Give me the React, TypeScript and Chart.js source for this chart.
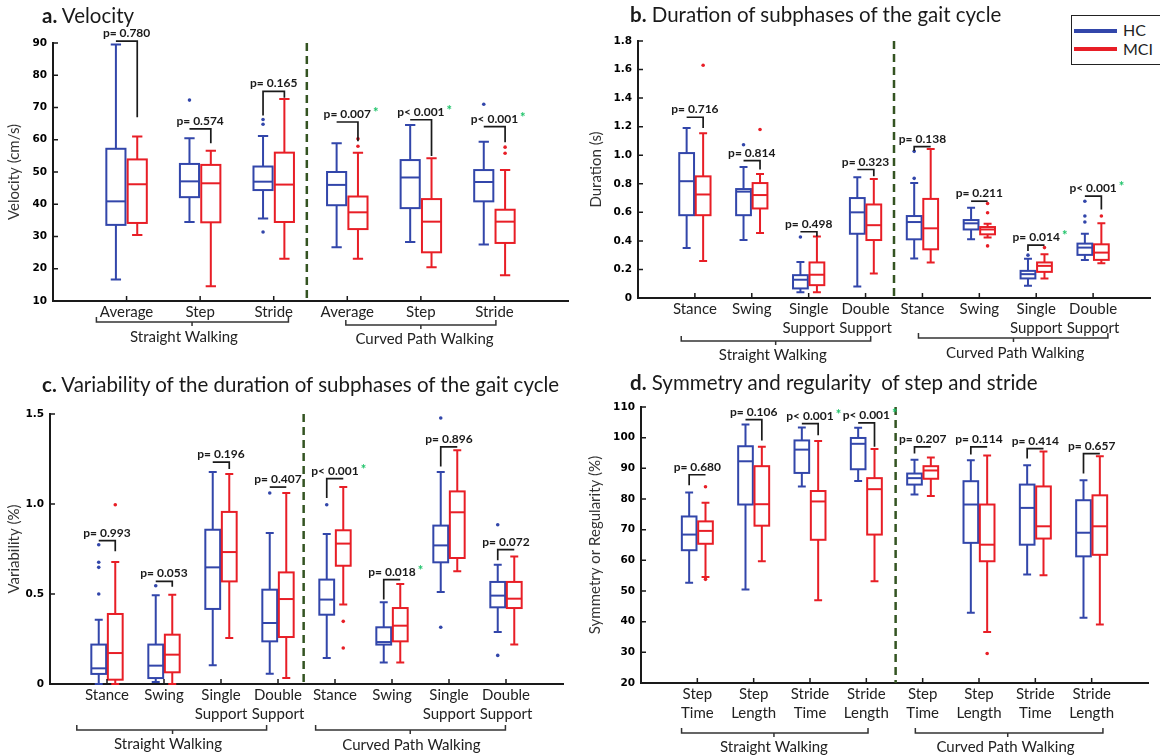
import React, { useEffect, useRef } from 'react';
import { Chart, registerables } from 'chart.js';
Chart.register(...registerables);

const BLUE = 'rgb(50,70,170)';
const RED = 'rgb(232,30,38)';
const DIVIDER = 'rgb(52,84,34)';
const STAR = 'rgb(30,195,105)';
const INK = '#1a1a1a';

// ---------- a. Velocity ----------
const velCategories = [['Average'], ['Step'], ['Stride'], ['Average'], ['Step'], ['Stride']];
const velHC = [
  [16.7, 33.6, 40.9, 57.2, 89.5],
  [34.5, 42.2, 47.1, 52.5, 60.5],
  [35.6, 44.4, 47.0, 51.7, 61.2],
  [26.7, 39.7, 46.0, 50.0, 58.9],
  [28.3, 38.8, 48.3, 53.7, 64.6],
  [27.5, 40.9, 46.9, 50.6, 59.4],
];
const velMCI = [
  [30.5, 34.2, 46.2, 53.9, 61.0],
  [14.6, 34.4, 46.5, 52.2, 56.6],
  [23.1, 34.5, 46.1, 56.0, 72.6],
  [23.1, 32.3, 37.5, 42.4, 56.0],
  [20.5, 25.1, 34.6, 41.6, 54.3],
  [18.0, 28.0, 34.6, 38.3, 50.6],
];
const velHCOut = [[], [72.3], [66.3, 64.8, 31.4], [], [], [71.0]];
const velMCIOut = [[], [], [], [60.3, 58.0], [], [57.7, 55.8]];
const velP = ['p= 0.780', 'p= 0.574', 'p= 0.165', 'p= 0.007', 'p< 0.001', 'p< 0.001'];
const velSig = [false, false, false, true, true, true];
const velBracket = [[90.6, null, 67], [63.4, null, 58.9], [75, 67.5, 73], [65.5, null, 59.5], [66.2, null, 55], [64.1, null, 59.2]];

// ---------- b. Duration ----------
const durCategories = [['Stance'], ['Swing'], ['Single', 'Support'], ['Double', 'Support'], ['Stance'], ['Swing'], ['Single', 'Support'], ['Double', 'Support']];
const durHC = [
  [0.35, 0.58, 0.818, 1.015, 1.19],
  [0.406, 0.58, 0.745, 0.763, 0.917],
  [0.04, 0.067, 0.128, 0.16, 0.253],
  [0.08, 0.45, 0.6, 0.7, 0.845],
  [0.276, 0.411, 0.532, 0.574, 0.806],
  [0.411, 0.48, 0.523, 0.546, 0.632],
  [0.086, 0.137, 0.167, 0.19, 0.275],
  [0.267, 0.302, 0.353, 0.381, 0.45],
];
const durMCI = [
  [0.26, 0.58, 0.725, 0.852, 1.154],
  [0.455, 0.627, 0.721, 0.805, 0.868],
  [0.04, 0.09, 0.163, 0.249, 0.43],
  [0.172, 0.406, 0.51, 0.655, 0.834],
  [0.248, 0.341, 0.488, 0.694, 1.043],
  [0.423, 0.446, 0.48, 0.497, 0.52],
  [0.137, 0.183, 0.225, 0.249, 0.307],
  [0.244, 0.267, 0.318, 0.376, 0.523],
];
const durHCOut = [[], [1.073], [0.427], [], [1.027, 0.838], [], [0.3], [0.678, 0.574, 0.532]];
const durMCIOut = [[1.63], [1.18], [], [], [], [0.662, 0.597, 0.365], [0.353], [0.574]];
const durP = ['p= 0.716', 'p= 0.814', 'p= 0.498', 'p= 0.323', 'p= 0.138', 'p= 0.211', 'p= 0.014', 'p< 0.001'];
const durSig = [false, false, false, false, false, false, true, true];
const durBracket = [[1.266, null, 1.19], [0.962, null, 0.9], [0.464, null, 0.43], [0.9, null, 0.853], [1.06, 1.03, null], [0.678, null, null], [0.37, 0.33, null], [0.713, null, 0.62]];

// ---------- c. Variability ----------
const varCategories = [['Stance'], ['Swing'], ['Single', 'Support'], ['Double', 'Support'], ['Stance'], ['Swing'], ['Single', 'Support'], ['Double', 'Support']];
const varHC = [
  [0.0, 0.056, 0.087, 0.219, 0.357],
  [0.011, 0.033, 0.102, 0.219, 0.493],
  [0.104, 0.417, 0.648, 0.857, 1.178],
  [0.057, 0.237, 0.339, 0.524, 0.839],
  [0.144, 0.385, 0.469, 0.58, 0.833],
  [0.12, 0.219, 0.233, 0.315, 0.454],
  [0.511, 0.676, 0.77, 0.88, 1.178],
  [0.289, 0.426, 0.491, 0.567, 0.663],
];
const varMCI = [
  [0.0, 0.024, 0.172, 0.389, 0.678],
  [0.0, 0.065, 0.163, 0.274, 0.496],
  [0.256, 0.57, 0.733, 0.956, 1.167],
  [0.033, 0.261, 0.472, 0.62, 1.061],
  [0.441, 0.657, 0.78, 0.854, 1.094],
  [0.12, 0.237, 0.324, 0.422, 0.556],
  [0.626, 0.7, 0.954, 1.07, 1.298],
  [0.219, 0.422, 0.474, 0.567, 0.709],
];
const varHCOut = [[0.774, 0.676, 0.648, 0.5], [0.546], [], [1.061], [0.996], [], [1.478, 0.315], [0.885, 0.159]];
const varMCIOut = [[0.996], [], [], [], [0.348, 0.2], [], [], []];
const varP = ['p= 0.993', 'p= 0.053', 'p= 0.196', 'p= 0.407', 'p< 0.001', 'p= 0.018', 'p= 0.896', 'p= 0.072'];
const varSig = [false, false, false, false, true, true, false, false];
const varBracket = [[0.796, null, 0.737], [0.57, null, 0.54], [1.233, null, 1.195], [1.094, null, null], [1.141, 1.033, null], [0.58, 0.469, null], [1.317, 1.209, null], [0.746, 0.687, null]];

// ---------- d. Symmetry ----------
const symCategories = [['Step', 'Time'], ['Step', 'Length'], ['Stride', 'Time'], ['Stride', 'Length'], ['Step', 'Time'], ['Step', 'Length'], ['Stride', 'Time'], ['Stride', 'Length']];
const symHC = [
  [52.7, 63.3, 68.4, 74.3, 82.1],
  [50.5, 78.2, 92.3, 97.2, 104.3],
  [84.1, 88.5, 96.1, 99.1, 103.3],
  [85.9, 89.7, 98.0, 99.9, 103.2],
  [81.5, 84.7, 86.8, 88.3, 92.8],
  [42.9, 65.7, 78.2, 85.8, 92.6],
  [55.4, 65.1, 77.1, 84.7, 91.0],
  [41.3, 61.3, 69.0, 79.6, 86.1],
];
const symMCI = [
  [54.6, 65.4, 69.6, 72.7, 78.8],
  [59.7, 71.3, 78.3, 90.7, 97.0],
  [47.0, 66.7, 79.2, 82.6, 98.9],
  [53.2, 68.4, 83.2, 86.8, 96.3],
  [81.0, 86.6, 89.3, 90.7, 93.5],
  [36.6, 59.7, 65.1, 78.2, 94.2],
  [55.1, 67.1, 71.1, 84.1, 95.5],
  [39.1, 61.8, 71.1, 81.2, 93.9],
];
const symHCOut = [[], [], [], [], [], [], [], []];
const symMCIOut = [[84.0, 53.8], [], [], [], [], [29.6], [], []];
const symP = ['p= 0.680', 'p= 0.106', 'p< 0.001', 'p< 0.001', 'p= 0.207', 'p= 0.114', 'p= 0.414', 'p= 0.657'];
const symSig = [false, false, true, true, false, false, false, false];
const symBracket = [[87.9, 84.5, null], [105.9, null, 99.1], [104.6, null, 100.8], [104.8, null, 97], [97, 94.8, null], [97, 94.5, null], [96.4, 93.2, null], [94.8, 88.3, null]];

const groupNames = ['Straight Walking', 'Curved Path Walking'];

type Group = { from: number; to: number; mid: number; text: number; dy: number; ty: number };
type Panel = {
  key: string;
  canvas: { left: number; top: number; w: number; h: number };
  area: { left: number; top: number; right: number; bottom: number };
  cats: string[][];
  hc: number[][];
  mci: number[][];
  hcOut: number[][];
  mciOut: number[][];
  pLabels: string[];
  pSig: boolean[];
  brackets: (number | null)[][];
  yMin: number;
  yMax: number;
  yStep: number;
  yTitle: string;
  yTitlePad: number;
  divider: number;
  groups: Group[];
};

const OFF = 0.145;
const BW = 0.26;
const CAPW = 0.14;
const XH = 62;

const panels: Panel[] = [
  {
    key: 'a', canvas: { left: 0, top: 0, w: 580, h: 370 }, area: { left: 53, top: 43, right: 568, bottom: 301 },
    cats: velCategories, hc: velHC, mci: velMCI, hcOut: velHCOut, mciOut: velMCIOut,
    pLabels: velP, pSig: velSig, brackets: velBracket,
    yMin: 10, yMax: 90, yStep: 10, yTitle: 'Velocity (cm/s)', yTitlePad: 5, divider: 3.45,
    groups: [
      { from: 0.59, to: 3.2, mid: 1.89, text: 1.78, dy: 21, ty: 36 },
      { from: 3.98, to: 6.02, mid: 5.0, text: 5.05, dy: 24, ty: 38 },
    ],
  },
  {
    key: 'b', canvas: { left: 580, top: 0, w: 580, h: 370 }, area: { left: 58, top: 41, right: 570, bottom: 298 },
    cats: durCategories, hc: durHC, mci: durMCI, hcOut: durHCOut, mciOut: durMCIOut,
    pLabels: durP, pSig: durSig, brackets: durBracket,
    yMin: 0, yMax: 1.8, yStep: 0.2, yTitle: 'Duration (s)', yTitlePad: 7, divider: 4.5,
    groups: [
      { from: 0.76, to: 4.09, mid: 2.42, text: 2.37, dy: 43, ty: 57 },
      { from: 4.93, to: 8.26, mid: 6.6, text: 6.63, dy: 40, ty: 55 },
    ],
  },
  {
    key: 'c', canvas: { left: 0, top: 370, w: 580, h: 386 }, area: { left: 50, top: 44, right: 563, bottom: 314 },
    cats: varCategories, hc: varHC, mci: varMCI, hcOut: varHCOut, mciOut: varMCIOut,
    pLabels: varP, pSig: varSig, brackets: varBracket,
    yMin: 0, yMax: 1.5, yStep: 0.5, yTitle: 'Variability (%)', yTitlePad: 5, divider: 4.45,
    groups: [
      { from: 0.47, to: 3.8, mid: 2.15, text: 2.07, dy: 46, ty: 60 },
      { from: 4.66, to: 7.99, mid: 6.32, text: 6.34, dy: 46, ty: 61 },
    ],
  },
  {
    key: 'd', canvas: { left: 580, top: 370, w: 580, h: 386 }, area: { left: 61, top: 37, right: 568, bottom: 313 },
    cats: symCategories, hc: symHC, mci: symMCI, hcOut: symHCOut, mciOut: symMCIOut,
    pLabels: symP, pSig: symSig, brackets: symBracket,
    yMin: 20, yMax: 110, yStep: 10, yTitle: 'Symmetry or Regularity (%)', yTitlePad: 6, divider: 4.52,
    groups: [
      { from: 0.72, to: 4.03, mid: 2.36, text: 2.36, dy: 50, ty: 64 },
      { from: 4.87, to: 8.2, mid: 6.51, text: 6.47, dy: 50, ty: 64 },
    ],
  },
];

function drawBox(ctx: CanvasRenderingContext2D, x: any, y: any, c: number, s: number[], color: string) {
  const [mn, q1, med, q3, mx] = s;
  const cx = x.getPixelForValue(c);
  const l = x.getPixelForValue(c - BW / 2);
  const r = x.getPixelForValue(c + BW / 2);
  const cl = x.getPixelForValue(c - CAPW / 2);
  const cr = x.getPixelForValue(c + CAPW / 2);
  const py = (v: number) => y.getPixelForValue(v);
  ctx.strokeStyle = color;
  ctx.lineWidth = 2;
  ctx.beginPath();
  ctx.moveTo(cx, py(mx)); ctx.lineTo(cx, py(q3));
  ctx.moveTo(cx, py(q1)); ctx.lineTo(cx, py(mn));
  ctx.moveTo(cl, py(mx)); ctx.lineTo(cr, py(mx));
  ctx.moveTo(cl, py(mn)); ctx.lineTo(cr, py(mn));
  ctx.stroke();
  ctx.fillStyle = '#fff';
  ctx.fillRect(l, py(q3), r - l, py(q1) - py(q3));
  ctx.strokeRect(l, py(q3), r - l, py(q1) - py(q3));
  ctx.beginPath();
  ctx.moveTo(l, py(med)); ctx.lineTo(r, py(med));
  ctx.stroke();
}

function makePlugin(p: Panel) {
  return {
    id: 'boxplots_' + p.key,
    beforeDatasetsDraw(chart: any) {
      const { ctx, chartArea, scales } = chart;
      const x = scales.x, y = scales.y;
      ctx.save();
      const dx = x.getPixelForValue(p.divider);
      ctx.strokeStyle = DIVIDER;
      ctx.lineWidth = 2.5;
      ctx.setLineDash([8, 5]);
      ctx.beginPath();
      ctx.moveTo(dx, chartArea.top);
      ctx.lineTo(dx, chartArea.bottom);
      ctx.stroke();
      ctx.setLineDash([]);
      p.hc.forEach((s, i) => drawBox(ctx, x, y, i + 1 - OFF, s, BLUE));
      p.mci.forEach((s, i) => drawBox(ctx, x, y, i + 1 + OFF, s, RED));
      ctx.restore();
    },
    afterDraw(chart: any) {
      const { ctx, chartArea, scales } = chart;
      const x = scales.x, y = scales.y;
      ctx.save();
      // inward tick marks
      ctx.strokeStyle = INK;
      ctx.lineWidth = 1.5;
      ctx.beginPath();
      for (let i = 1; i <= p.cats.length; i++) {
        const px = x.getPixelForValue(i);
        ctx.moveTo(px, chartArea.bottom);
        ctx.lineTo(px, chartArea.bottom - 5);
      }
      y.ticks.forEach((t: any) => {
        const py = y.getPixelForValue(t.value);
        ctx.moveTo(chartArea.left, py);
        ctx.lineTo(chartArea.left + 5, py);
      });
      ctx.stroke();
      // p-value brackets
      p.brackets.forEach((b, i) => {
        const [lvl, le, re] = b as [number, number | null, number | null];
        const xl = x.getPixelForValue(i + 1 - OFF);
        const xr = x.getPixelForValue(i + 1 + OFF);
        const yh = y.getPixelForValue(lvl);
        ctx.strokeStyle = INK;
        ctx.lineWidth = 1.7;
        ctx.beginPath();
        if (le !== null) { ctx.moveTo(xl, y.getPixelForValue(le)); ctx.lineTo(xl, yh); } else ctx.moveTo(xl, yh);
        ctx.lineTo(xr, yh);
        if (re !== null) ctx.lineTo(xr, y.getPixelForValue(re));
        ctx.stroke();
        const xm = (xl + xr) / 2;
        ctx.font = 'bold 12px Lato';
        ctx.fillStyle = INK;
        ctx.textAlign = 'center';
        ctx.textBaseline = 'alphabetic';
        ctx.fillText(p.pLabels[i], xm, yh - 4);
        if (p.pSig[i]) {
          const w = ctx.measureText(p.pLabels[i]).width;
          ctx.fillStyle = STAR;
          ctx.font = 'bold 13px Lato';
          ctx.textAlign = 'left';
          ctx.fillText('*', xm + w / 2 + 2, yh - 5);
        }
      });
      // group brackets
      p.groups.forEach((g, gi) => {
        const x0 = x.getPixelForValue(g.from);
        const x1 = x.getPixelForValue(g.to);
        const xm = x.getPixelForValue(g.mid);
        const yb = chartArea.bottom + g.dy;
        ctx.strokeStyle = '#333';
        ctx.lineWidth = 1.5;
        ctx.beginPath();
        ctx.moveTo(x0, yb - 5);
        ctx.lineTo(x0, yb);
        ctx.lineTo(x1, yb);
        ctx.lineTo(x1, yb - 5);
        ctx.moveTo(xm, yb);
        ctx.lineTo(xm, yb + 4);
        ctx.stroke();
        ctx.font = '15px Lato';
        ctx.fillStyle = '#222';
        ctx.textAlign = 'center';
        ctx.textBaseline = 'middle';
        ctx.fillText(groupNames[gi], x.getPixelForValue(g.text), chartArea.bottom + g.ty);
      });
      ctx.restore();
    },
  };
}

function outlierPoints(out: number[][], shift: number) {
  const pts: { x: number; y: number }[] = [];
  out.forEach((vals, i) => vals.forEach((v) => pts.push({ x: i + 1 + shift, y: v })));
  return pts;
}

function PanelChart({ p }: { p: Panel }) {
  const ref = useRef<HTMLCanvasElement | null>(null);
  useEffect(() => {
    if (!ref.current) return;
    const n = p.cats.length;
    const chart = new Chart(ref.current, {
      type: 'scatter',
      data: {
        datasets: [
          { label: 'HC', data: outlierPoints(p.hcOut, -OFF), backgroundColor: BLUE, borderColor: BLUE, pointRadius: 1.8, pointBorderWidth: 0 },
          { label: 'MCI', data: outlierPoints(p.mciOut, OFF), backgroundColor: RED, borderColor: RED, pointRadius: 1.8, pointBorderWidth: 0 },
        ],
      },
      options: {
        animation: false,
        responsive: false,
        devicePixelRatio: 1,
        layout: {
          padding: {
            left: 0,
            top: p.area.top,
            right: p.canvas.w - p.area.right,
            bottom: p.canvas.h - p.area.bottom - XH,
          },
        },
        plugins: { legend: { display: false }, tooltip: { enabled: false }, title: { display: false } },
        scales: {
          x: {
            type: 'linear',
            min: 0,
            max: n + 1,
            afterFit: (s: any) => { s.height = XH; },
            ticks: {
              stepSize: 1,
              autoSkip: false,
              maxRotation: 0,
              minRotation: 0,
              padding: 2,
              color: '#222',
              font: { family: 'Lato', size: 15, lineHeight: 1.25 },
              callback: (v: any) => {
                const k = Math.round(Number(v));
                return k >= 1 && k <= n ? p.cats[k - 1] : '';
              },
            },
            grid: { display: true, drawOnChartArea: false, drawTicks: false },
            border: { display: true, color: INK, width: 2 },
          },
          y: {
            type: 'linear',
            min: p.yMin,
            max: p.yMax,
            afterFit: (s: any) => { s.width = p.area.left; },
            ticks: {
              stepSize: p.yStep,
              padding: 6,
              color: '#000',
              font: { family: 'DejaVu Sans', size: 10.5, weight: 'bold' },
            },
            title: {
              display: true,
              text: p.yTitle,
              color: '#333',
              font: { family: 'Lato', size: 15 },
              padding: { top: p.yTitlePad, bottom: 0 },
            },
            grid: { display: true, drawOnChartArea: false, drawTicks: false },
            border: { display: true, color: INK, width: 2 },
          },
        },
      } as any,
      plugins: [makePlugin(p)],
    });
    return () => chart.destroy();
  }, [p]);
  return (
    <canvas
      ref={ref}
      width={p.canvas.w}
      height={p.canvas.h}
      style={{ position: 'absolute', left: p.canvas.left, top: p.canvas.top, width: p.canvas.w, height: p.canvas.h }}
    />
  );
}

const titleStyle: React.CSSProperties = {
  position: 'absolute',
  fontFamily: 'Lato, sans-serif',
  fontSize: 20.5,
  lineHeight: '24px',
  color: '#1a1a1a',
  whiteSpace: 'nowrap',
};

export default function App() {
  return (
    <div style={{ position: 'absolute', left: 0, top: 0, width: 1160, height: 756, background: '#fff', overflow: 'hidden' }}>
      {panels.map((p) => (
        <PanelChart key={p.key} p={p} />
      ))}
      <div style={{ ...titleStyle, left: 42, top: 3 }}><b>a.</b> Velocity</div>
      <div style={{ ...titleStyle, left: 630, top: 2 }}><b>b.</b> Duration of subphases of the gait cycle</div>
      <div style={{ ...titleStyle, left: 42, top: 372 }}><b>c.</b> Variability of the duration of subphases of the gait cycle</div>
      <div style={{ ...titleStyle, left: 630, top: 370 }}><b>d.</b> Symmetry and regularity&nbsp; of step and stride</div>
      <div style={{ position: 'absolute', left: 1071, top: 15, width: 100, height: 48, border: '1.5px solid #222', background: '#fff', fontFamily: 'Lato, sans-serif', fontSize: 16, color: '#222' }}>
        <div style={{ position: 'absolute', left: 2, top: 13, width: 43, height: 4, background: BLUE }} />
        <div style={{ position: 'absolute', left: 51, top: 5, lineHeight: '18px' }}>HC</div>
        <div style={{ position: 'absolute', left: 2, top: 31, width: 43, height: 4, background: RED }} />
        <div style={{ position: 'absolute', left: 51, top: 24, lineHeight: '18px' }}>MCI</div>
      </div>
    </div>
  );
}
